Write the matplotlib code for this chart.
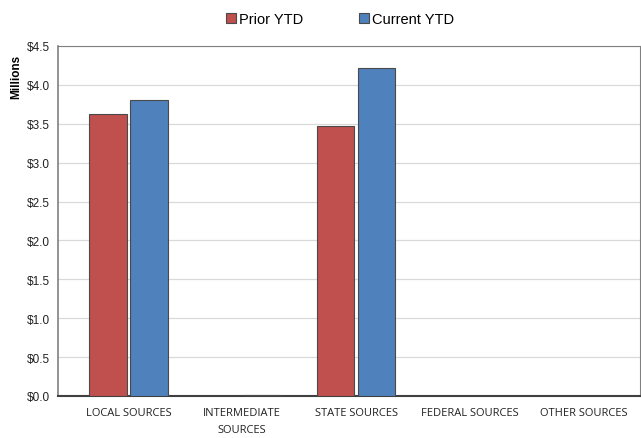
import numpy as np
import matplotlib
matplotlib.use("Agg")
import matplotlib.pyplot as plt

categories = ["LOCAL SOURCES", "INTERMEDIATE\nSOURCES", "STATE SOURCES", "FEDERAL SOURCES", "OTHER SOURCES"]
prior_ytd = [3.63, 0.0, 3.47, 0.0, 0.0]
current_ytd = [3.81, 0.01, 4.22, 0.0, 0.0]
y_ticks = np.arange(0, 4.51, 0.5)

fig = plt.figure(figsize=(6.41, 4.39), dpi=100)
ax = fig.add_axes([0.0905, 0.0957, 0.9085, 0.7973])

x = np.arange(len(categories))
w = 0.33
ax.bar(x - 0.18, prior_ytd, w, color="#C0504D", edgecolor="#4a4a4a", linewidth=0.8,
       label="Prior YTD", zorder=3)
ax.bar(x + 0.18, current_ytd, w, color="#4F81BD", edgecolor="#4a4a4a", linewidth=0.8,
       label="Current YTD", zorder=3)

ax.set_xlim(-0.62, 4.5)
ax.set_ylim(0, 4.5)
ax.set_yticks(y_ticks)
ax.set_yticklabels(["${:.1f}".format(v) for v in y_ticks], fontsize=8.5,
                   family="Liberation Sans", color="#222222")
ax.set_xticks(x)
ax.set_xticklabels(categories, fontsize=8, family="Open Sans", linespacing=1.7,
                   color="#222222")
ax.tick_params(axis="both", length=0, pad=6)
ax.tick_params(axis="x", pad=8)
ax.grid(axis="y", color="#d9d9d9", linewidth=0.9, zorder=0)

for s in ["top", "right"]:
    ax.spines[s].set_color("#808080")
    ax.spines[s].set_linewidth(0.8)
ax.spines["left"].set_color("#808080")
ax.spines["left"].set_linewidth(1.2)
ax.spines["bottom"].set_color("#404040")
ax.spines["bottom"].set_linewidth(1.5)

# y label sits high, next to the top ticks
ax.set_ylabel("Millions", fontsize=8.5, fontweight="bold", family="Liberation Sans")
ax.yaxis.set_label_coords(-0.062, 0.915)

fig.legend(loc="upper center", bbox_to_anchor=(0.53, 1.0), ncol=2, frameon=False,
           prop={"family": "Liberation Sans", "size": 10.5}, handlelength=0.7,
           handleheight=0.7, handletextpad=0.2, columnspacing=3.8)

fig.savefig("out.png", dpi=100)
